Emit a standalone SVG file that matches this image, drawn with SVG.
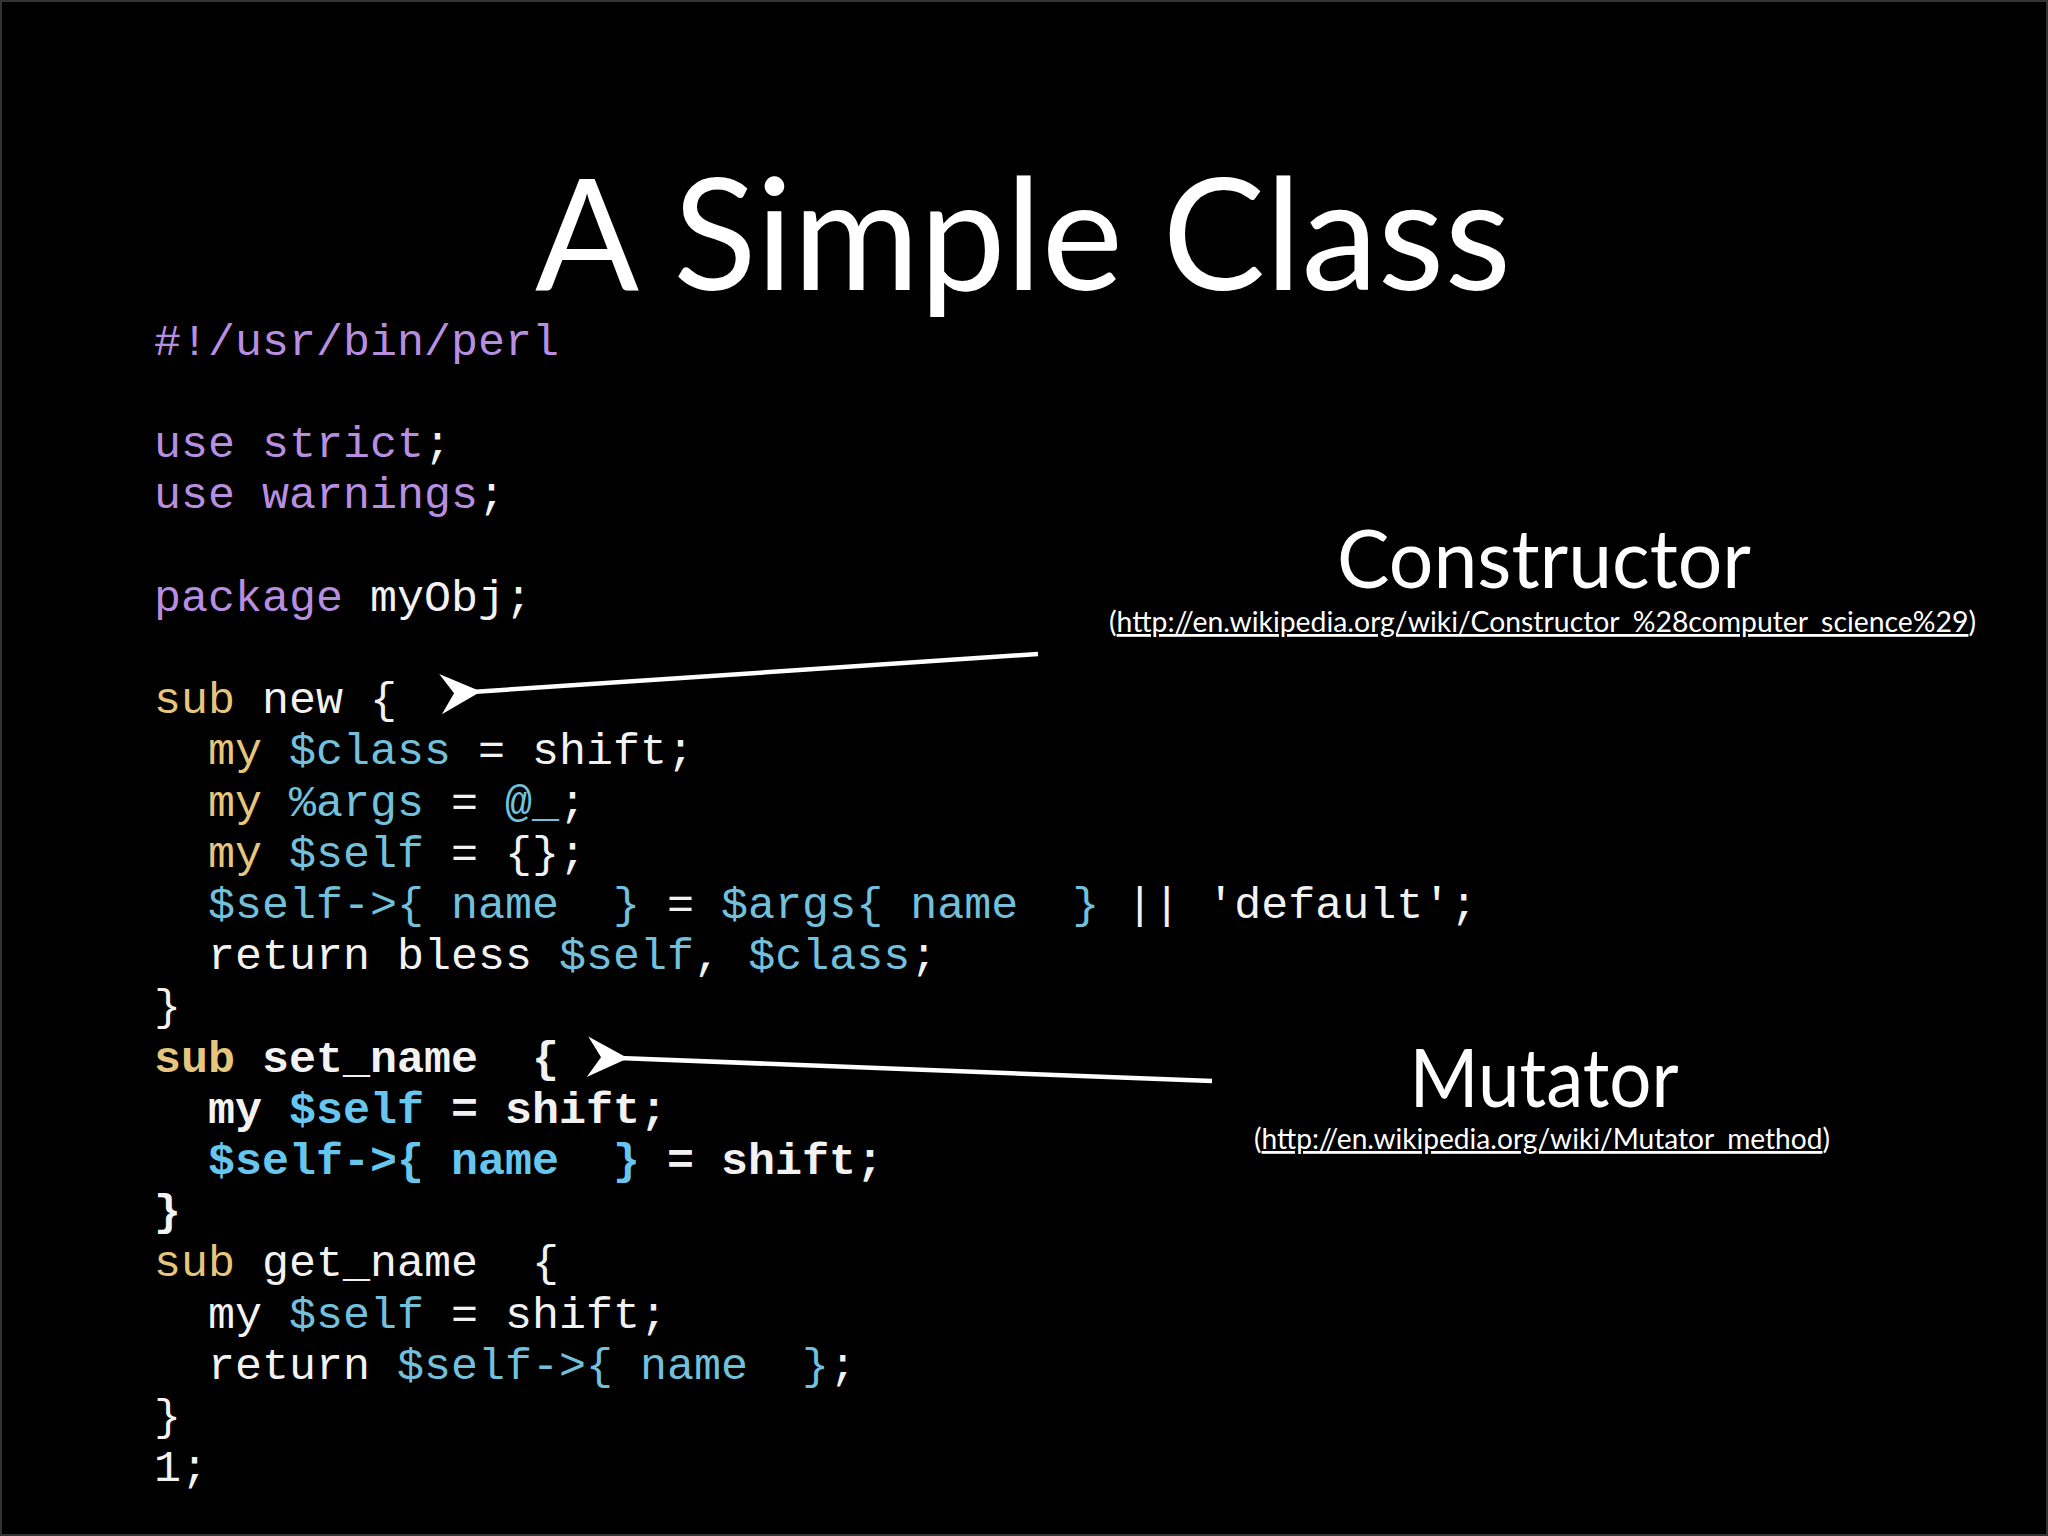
<svg xmlns="http://www.w3.org/2000/svg" width="2048" height="1536" viewBox="0 0 2048 1536">
<style>
.code{font-family:"Liberation Mono","Courier New",monospace;font-size:45px;fill:#f2f2f2;white-space:pre}
.b{font-weight:bold}
.p{fill:#b88ee0}.y{fill:#e6c57c}.c{fill:#72c0dc}.cb{fill:#66c6ee}
.sans{font-family:Lato,"Open Sans",sans-serif;fill:#fff}
.url{font-family:Lato,"Open Sans",sans-serif;font-size:28px;fill:#fff}
</style>
<defs>
<marker id="ah" markerWidth="10" markerHeight="10" refX="2" refY="5" orient="auto" markerUnits="strokeWidth">
<path d="M0,5 L9,0.5 L6,5 L9,9.5 Z" fill="#fff"/>
</marker>
</defs>
<rect width="2048" height="1536" fill="#000"/>
<rect x="1" y="1" width="2046" height="1534" fill="none" stroke="#333" stroke-width="2"/>
<g id="title"><text class="sans" x="1023" y="290" font-size="155" text-anchor="middle" textLength="976" lengthAdjust="spacingAndGlyphs">A Simple Class</text></g>
<g id="code">
<text class="code" x="154" y="355"><tspan class="p">#!/usr/bin/perl</tspan></text>
<text class="code" x="154" y="457"><tspan class="p">use strict</tspan>;</text>
<text class="code" x="154" y="508"><tspan class="p">use warnings</tspan>;</text>
<text class="code" x="154" y="611"><tspan class="p">package</tspan> myObj;</text>
<text class="code" x="154" y="713"><tspan class="y">sub</tspan> new {</text>
<text class="code" x="154" y="764">  <tspan class="y">my</tspan> <tspan class="c">$class</tspan> = shift;</text>
<text class="code" x="154" y="816">  <tspan class="y">my</tspan> <tspan class="c">%args</tspan> = <tspan class="c">@_</tspan>;</text>
<text class="code" x="154" y="867">  <tspan class="y">my</tspan> <tspan class="c">$self</tspan> = {};</text>
<text class="code" x="154" y="918">  <tspan class="c">$self-&gt;{ name  }</tspan> = <tspan class="c">$args{ name  }</tspan> || 'default';</text>
<text class="code" x="154" y="969">  return bless <tspan class="c">$self</tspan>, <tspan class="c">$class</tspan>;</text>
<text class="code" x="154" y="1020">}</text>
<text class="code b" x="154" y="1072"><tspan class="y">sub</tspan> set_name  {</text>
<text class="code b" x="154" y="1123">  my <tspan class="cb">$self</tspan> = shift;</text>
<text class="code b" x="154" y="1174">  <tspan class="cb">$self-&gt;{ name  }</tspan> = shift;</text>
<text class="code b" x="154" y="1225">}</text>
<text class="code" x="154" y="1276"><tspan class="y">sub</tspan> get_name  {</text>
<text class="code" x="154" y="1328">  my <tspan class="c">$self</tspan> = shift;</text>
<text class="code" x="154" y="1379">  return <tspan class="c">$self-&gt;{ name  }</tspan>;</text>
<text class="code" x="154" y="1430">}</text>
<text class="code" x="154" y="1481">1;</text>
</g>
<g id="constructor">
<text class="sans" x="1544" y="588" font-size="82" text-anchor="middle" textLength="414" lengthAdjust="spacingAndGlyphs">Constructor</text>
<text class="url" x="1109" y="632" textLength="867" lengthAdjust="spacingAndGlyphs">(<tspan text-decoration="underline">http://en.wikipedia.org/wiki/Constructor_%28computer_science%29</tspan>)</text>
</g>
<g id="mutator">
<text class="sans" x="1544" y="1107" font-size="82" text-anchor="middle" textLength="269" lengthAdjust="spacingAndGlyphs">Mutator</text>
<text class="url" x="1254" y="1149" textLength="576" lengthAdjust="spacingAndGlyphs">(<tspan text-decoration="underline">http://en.wikipedia.org/wiki/Mutator_method</tspan>)</text>
</g>
<g id="connectors" stroke="#fff" stroke-width="4.5" fill="none">
<line x1="1038" y1="654" x2="472" y2="692" marker-end="url(#ah)"/>
<line x1="1212" y1="1081" x2="619" y2="1058" marker-end="url(#ah)"/>
</g>
</svg>
